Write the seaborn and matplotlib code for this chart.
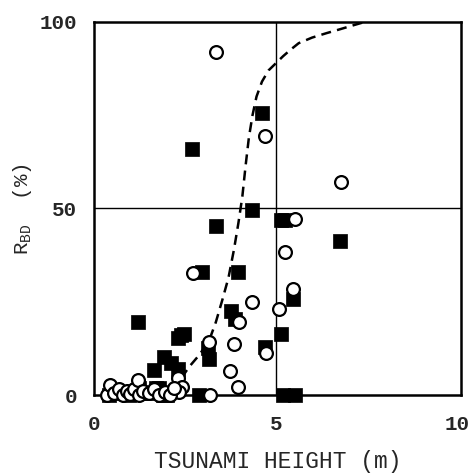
import matplotlib
matplotlib.use("Agg")
import matplotlib.pyplot as plt
import seaborn as sns
import pandas as pd

# Filled squares (tsunami height m, R_BD %)
sq_x = [4.63, 2.70, 4.34, 3.35, 5.15, 5.25, 6.76, 2.97, 3.97, 1.20, 3.76, 3.88,
        5.47, 5.13, 2.38, 2.47, 2.32, 3.13, 3.15, 4.70, 1.93, 2.11, 2.31, 1.64,
        1.79, 2.88, 5.20, 5.52, 0.40, 0.60, 0.75, 0.95, 1.10, 1.25, 1.30, 1.55,
        1.70, 1.90, 2.00]
sq_y = [75.6, 65.9, 49.7, 45.4, 46.9, 47.0, 41.3, 33.0, 33.0, 19.5, 22.6, 20.5,
        25.7, 16.5, 16.1, 16.5, 15.4, 12.5, 9.6, 12.9, 10.3, 8.5, 7.1, 6.7,
        1.8, 0.0, 0.0, 0.0, 0.0, 1.0, 0.5, 0.0, 0.5, 2.0, 0.5, 0.5,
        2.0, 0.0, 0.0]

# Open circles
ci_x = [3.35, 4.70, 6.79, 5.52, 5.26, 2.72, 5.47, 4.35, 5.09, 3.99, 3.85, 3.17,
        4.73, 3.74, 3.97, 3.20, 2.32, 2.41, 2.34, 0.35, 0.45, 0.55, 0.70, 0.80,
        0.90, 1.00, 1.10, 1.20, 1.25, 1.35, 1.50, 1.65, 1.80, 1.95, 2.10, 2.20]
ci_y = [91.8, 69.5, 57.1, 47.1, 38.4, 32.8, 28.3, 25.0, 23.2, 19.6, 13.7, 14.3,
        11.3, 6.5, 2.2, 0.0, 4.5, 2.2, 0.9, 0.0, 2.7, 0.5, 1.5, 0.0,
        1.0, 0.3, 1.5, 4.0, 0.0, 1.0, 0.5, 1.5, 0.0, 0.8, 0.0, 2.0]

# Dashed fitted curve
cv_x = [2.40, 2.62, 2.90, 3.17, 3.35, 3.53, 3.70, 3.85, 3.97, 4.08, 4.17, 4.26,
        4.36, 4.47, 4.62, 4.80, 5.00, 5.20, 5.40, 5.63, 6.00, 6.40, 6.72, 7.10, 7.45]
cv_y = [4.5, 7.6, 10.8, 14.7, 19.5, 25.5, 31.5, 39.0, 46.0, 53.2, 61.5, 69.0,
        75.0, 80.0, 84.0, 87.0, 88.9, 90.8, 92.5, 94.3, 95.8, 97.0, 97.9, 99.0, 100.0]

x_ticks = [0, 5, 10]
y_ticks = [0, 50, 100]

sns.set_style("white")
plt.rcParams['font.family'] = ['Liberation Mono', 'DejaVu Sans']

fig = plt.figure(figsize=(4.77, 4.76), dpi=100)
ax = fig.add_axes([0.197, 0.170, 0.770, 0.784])

ax.axvline(5, color="black", lw=1.0, zorder=1)
ax.axhline(50, color="black", lw=1.0, zorder=1)

sns.lineplot(x=cv_x, y=cv_y, ax=ax, color="black", lw=1.8, sort=False,
             linestyle=(0, (4, 2.5)), zorder=2)

sns.scatterplot(x=sq_x, y=sq_y, ax=ax, marker="s", s=95, color="black",
                edgecolor="black", linewidth=0.5, zorder=3)
sns.scatterplot(x=ci_x, y=ci_y, ax=ax, marker="o", s=85, facecolor="white",
                edgecolor="black", linewidth=1.6, zorder=4)
for coll in ax.collections:
    coll.set_clip_on(False)

ax.set_xlim(0, 10.1)
ax.set_ylim(0, 100)
ax.set_xticks(x_ticks)
ax.set_yticks(y_ticks)
ax.set_xticklabels([str(t) for t in x_ticks], fontsize=15, fontweight="bold")
ax.set_yticklabels([str(t) for t in y_ticks], fontsize=15, fontweight="bold")
ax.tick_params(axis="x", length=0, pad=14)
ax.tick_params(axis="y", length=0, pad=12)

for sp in ax.spines.values():
    sp.set_color("black")
    sp.set_linewidth(1.8)

ax.set_xlabel("TSUNAMI HEIGHT (m)", fontsize=16.5, labelpad=12)
ax.set_ylabel(r"R$_{\mathregular{BD}}$  (%)", fontsize=15, labelpad=4)

fig.savefig("out.png", dpi=100)
